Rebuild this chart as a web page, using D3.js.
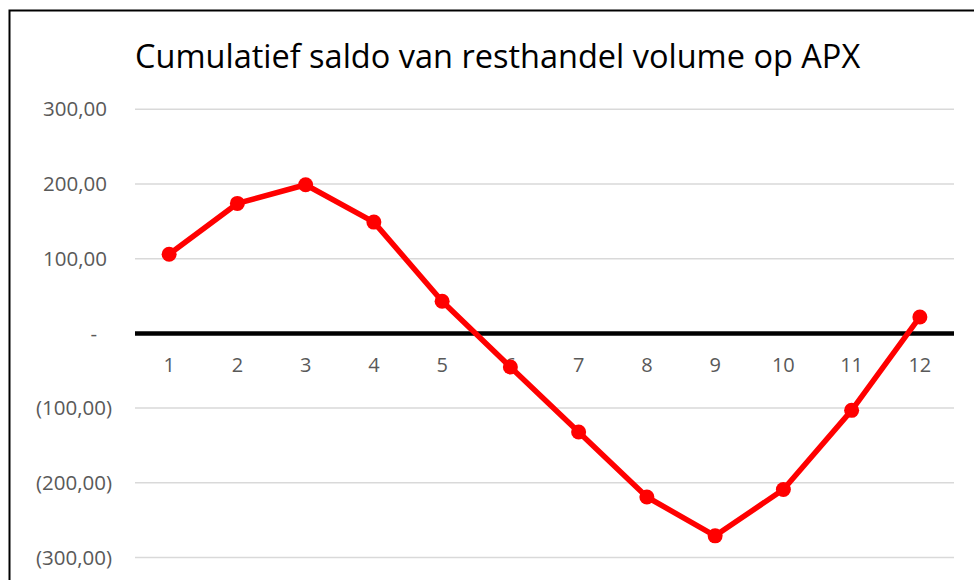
<!DOCTYPE html>
<html>
<head>
<meta charset="utf-8">
<script src="https://cdn.jsdelivr.net/npm/d3@7"></script>
<style>
  body { margin: 0; background: #fff; }
  svg { display: block; font-family: "Open Sans", "Noto Sans", sans-serif; }
</style>
</head>
<body>
<svg id="chart" width="974" height="580"></svg>
<script>
// chart data
var title = "Cumulatief saldo van resthandel volume op APX";
var months = ["1", "2", "3", "4", "5", "6", "7", "8", "9", "10", "11", "12"];
var saldo = [106, 174, 199, 149, 43, -45, -132, -219, -271, -209, -103, 22];
var yTicks = [-300, -200, -100, 0, 100, 200, 300];

var svg = d3.select("#chart");

// outer frame (chart area border, cut off on right/bottom)
svg.append("rect")
    .attr("x", 9.5).attr("y", 10.5)
    .attr("width", 1000).attr("height", 600)
    .attr("fill", "none")
    .attr("stroke", "#000")
    .attr("stroke-width", 2);

var left = 135, right = 954;
var x = d3.scaleBand().domain(months).range([left, right]);
var y = d3.scaleLinear().domain([-300, 300]).range([557.5, 109.3]);

// accounting style: 300,00 / - / (100,00)
function fmt(v) {
    if (v === 0) return "-";
    var s = d3.format(".2f")(Math.abs(v)).replace(".", ",");
    return v < 0 ? "(" + s + ")" : s;
}

// gridlines
svg.append("g")
    .selectAll("line")
    .data(yTicks.filter(function (d) { return d !== 0; }))
    .enter()
    .append("line")
    .attr("x1", left).attr("x2", right)
    .attr("y1", function (d) { return y(d); })
    .attr("y2", function (d) { return y(d); })
    .attr("stroke", "#d9d9d9")
    .attr("stroke-width", 1.5);

// y labels
svg.append("g")
    .selectAll("text")
    .data(yTicks)
    .enter()
    .append("text")
    .attr("x", function (d) { return d < 0 ? 112 : (d === 0 ? 97 : 107); })
    .attr("y", function (d) { return y(d); })
    .attr("dy", "0.35em")
    .attr("text-anchor", "end")
    .attr("font-size", 20.5)
    .attr("fill", "#595959")
    .text(fmt);

// zero axis
svg.append("line")
    .attr("x1", left).attr("x2", right)
    .attr("y1", y(0)).attr("y2", y(0))
    .attr("stroke", "#000")
    .attr("stroke-width", 4.5);

// x labels just under the zero line
svg.append("g")
    .selectAll("text")
    .data(months)
    .enter()
    .append("text")
    .attr("x", function (d) { return x(d) + x.bandwidth() / 2; })
    .attr("y", y(0) + 32)
    .attr("dy", "0.35em")
    .attr("text-anchor", "middle")
    .attr("font-size", 20)
    .attr("fill", "#595959")
    .text(function (d) { return d; });

// series line
var line = d3.line()
    .x(function (d, i) { return x(months[i]) + x.bandwidth() / 2; })
    .y(function (d) { return y(d); });

svg.append("path")
    .datum(saldo)
    .attr("d", line)
    .attr("fill", "none")
    .attr("stroke", "#ff0000")
    .attr("stroke-width", 5.5)
    .attr("stroke-linejoin", "round");

svg.append("g")
    .selectAll("circle")
    .data(saldo)
    .enter()
    .append("circle")
    .attr("cx", function (d, i) { return x(months[i]) + x.bandwidth() / 2; })
    .attr("cy", function (d) { return y(d); })
    .attr("r", 7.5)
    .attr("fill", "#ff0000");

// title
svg.append("text")
    .attr("x", left)
    .attr("y", 68)
    .attr("font-size", 32.5)
    .attr("fill", "#000")
    .text(title);
</script>
</body>
</html>
